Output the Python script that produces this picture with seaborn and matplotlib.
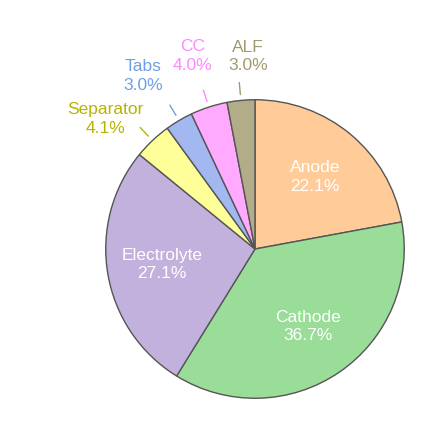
import numpy as np
import matplotlib
matplotlib.use("Agg")
import matplotlib.pyplot as plt
import seaborn as sns

sns.set_theme(style="white")
plt.rcParams['font.family'] = ['Liberation Sans', 'DejaVu Sans']

labels = ["Anode", "Cathode", "Electrolyte", "Separator", "Tabs", "CC", "ALF"]
values = [22.1, 36.7, 27.1, 4.1, 3.0, 4.0, 3.0]
colors = ["#FFCC99", "#99DD99", "#C3B1DD", "#FFFF99", "#A3B8F0", "#FFAAFF", "#B3AC88"]
text_colors = ["white", "white", "white", "#B5B500", "#6F9FE0", "#FF88FF", "#A09A70"]
inside = [True, True, True, False, False, False, False]

fig = plt.figure(figsize=(4.3, 4.44), dpi=100)
ax = fig.add_axes([105/430, 45/444, 300/430, 300/444])
wedges, _ = ax.pie(values, colors=colors, startangle=90, counterclock=False,
                   wedgeprops=dict(edgecolor="#555555", linewidth=1.0))
ax.set_xlim(-1.005, 1.005)
ax.set_ylim(-1.005, 1.005)
ax.set_aspect("auto")

label_ang = {3: 139, 4: 123, 5: 108, 6: 92}
label_r = {3: 1.33, 4: 1.38, 5: 1.36, 6: 1.29}
for i, w in enumerate(wedges):
    mid = np.deg2rad((w.theta1 + w.theta2) / 2)
    txt = f"{labels[i]}\n{values[i]:.1f}%"
    if inside[i]:
        r = 0.63
        ax.text(r * np.cos(mid), r * np.sin(mid), txt, ha="center", va="center",
                color=text_colors[i], fontsize=12.5, linespacing=1.3)
    else:
        a = np.deg2rad(label_ang[i]); r = label_r[i]
        ax.text(r * np.cos(a), r * np.sin(a), txt, ha="center", va="center",
                color=text_colors[i], fontsize=12.5, linespacing=1.3)
        ax.plot([1.04 * np.cos(mid), 1.12 * np.cos(mid)],
                [1.04 * np.sin(mid), 1.12 * np.sin(mid)],
                color=text_colors[i], lw=1, clip_on=False)

fig.savefig("out.png", dpi=100, facecolor="white")
